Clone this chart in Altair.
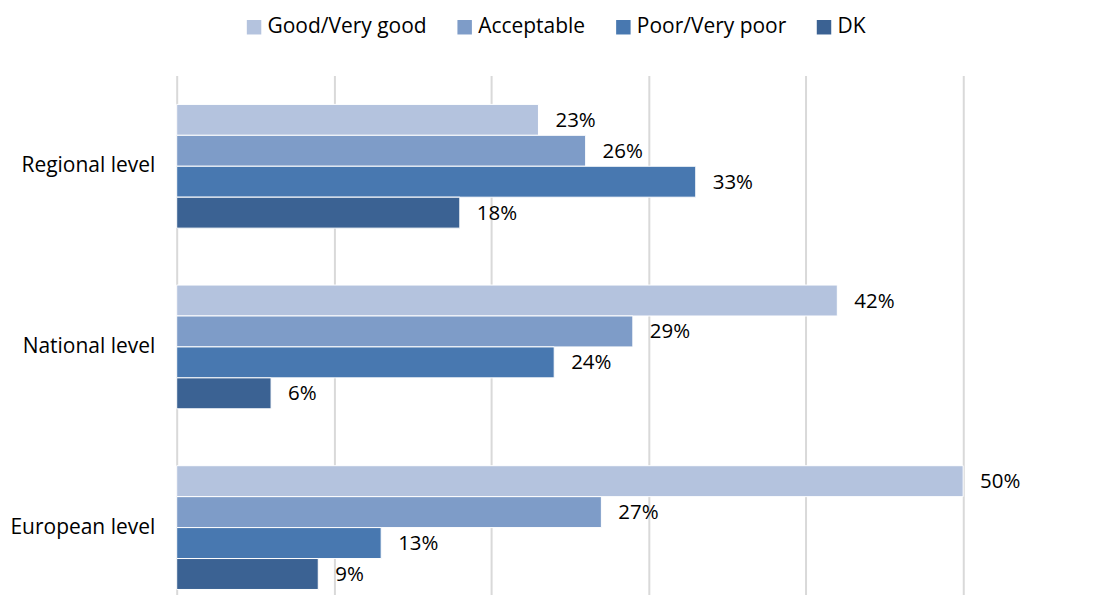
import altair as alt
import pandas as pd

levels = ["Regional level", "National level", "European level"]
series = ["Good/Very good", "Acceptable", "Poor/Very poor", "DK"]
colors = ["#B4C3DE", "#7E9CC8", "#4878B0", "#3B6293"]
values = {
    "Regional level": [23, 26, 33, 18],
    "National level": [42, 29, 24, 6],
    "European level": [50, 27, 13, 9],
}

rows = []
for lv in levels:
    for s, v in zip(series, values[lv]):
        rows.append({"level": lv, "series": s, "value": v / 100, "label": f"{v}%"})
df = pd.DataFrame(rows)

FONT = "Open Sans"

x = alt.X("value:Q",
          scale=alt.Scale(domain=[0, 0.587], nice=False, zero=True),
          axis=alt.Axis(values=[0, 0.1, 0.2, 0.3, 0.4, 0.5], grid=True, gridColor="#D9D9D9",
                        gridWidth=2, labels=False, ticks=False, domain=False, title=None))
y = alt.Y("level:N", sort=levels,
          scale=alt.Scale(paddingInner=0.315, paddingOuter=0.094, align=0.853),
          axis=alt.Axis(title=None, ticks=False, domain=False, labelFont=FONT, labelFontSize=21,
                        labelColor="#000000", labelPadding=22))
yoff = alt.YOffset("series:N", sort=series, scale=alt.Scale(paddingInner=0, paddingOuter=0))

bars = alt.Chart(df).mark_bar(stroke="white", strokeWidth=1).encode(
    x=x, y=y, yOffset=yoff,
    color=alt.Color("series:N", sort=series,
                    scale=alt.Scale(domain=series, range=colors),
                    legend=alt.Legend(title=None, orient="none", direction="horizontal",
                                      legendX=67, legendY=-59, symbolType="square",
                                      symbolSize=210, symbolStrokeWidth=0, labelFont=FONT,
                                      labelFontSize=21, labelColor="#000000",
                                      columnPadding=27, labelOffset=3)),
)

text = alt.Chart(df).mark_text(align="left", baseline="middle", dx=17, dy=1, font=FONT,
                               fontSize=20.5, color="#000000").encode(
    x=x, y=y, yOffset=yoff, text="label:N")

chart = (bars + text).properties(
    width=925, height=520,
    autosize=alt.AutoSizeParams(type="none"),
    padding={"left": 169, "top": 67, "right": 0, "bottom": 0},
).configure_view(stroke=None)

chart.save("out.html", embed_options={"renderer": "svg", "actions": False})
